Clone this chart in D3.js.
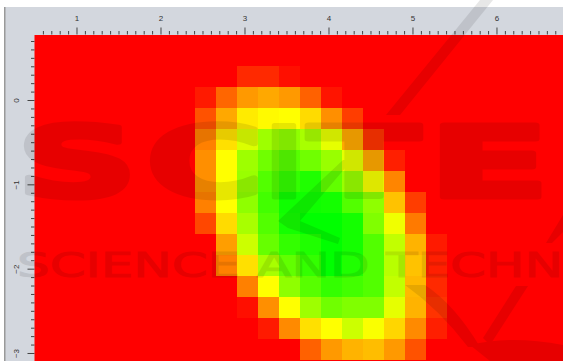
<!DOCTYPE html>
<html>
<head>
<meta charset="utf-8">
<script src="https://cdn.jsdelivr.net/npm/d3@7"></script>
<style>
  html, body { margin: 0; padding: 0; background: #fff; overflow: hidden; }
  svg { display: block; font-family: "DejaVu Sans", sans-serif; }
</style>
</head>
<body>
<div id="chart"></div>
<script>
// left edge of each column and top edge of each row, in data units
const xBins = [2.41, 2.66, 2.91, 3.16, 3.41, 3.66, 3.91, 4.16, 4.41, 4.66, 4.91, 5.16];
const yBins = [0.403, 0.154, -0.095, -0.344, -0.593, -0.842, -1.091, -1.34, -1.589, -1.838, -2.087, -2.336, -2.585, -2.834];
const binW = 0.25, binH = 0.249;

// 0 = red, 50 = yellow, 100 = green
const grid = [
  [ 0,  0,  8,  8,  3,  0,  0,  0,  0,  0,  0,  0],
  [ 5, 20, 30, 33, 30, 19,  4,  0,  0,  0,  0,  0],
  [16, 33, 46, 49, 50, 43, 28, 12,  0,  0,  0,  0],
  [25, 44, 57, 69, 72, 67, 55, 33, 10,  0,  0,  0],
  [28, 50, 69, 78, 83, 78, 70, 55, 33,  6,  0,  0],
  [28, 50, 70, 84, 90, 94, 81, 70, 52, 26,  0,  0],
  [25, 50, 72, 87, 97, 97, 96, 84, 72, 38, 12,  0],
  [14, 43, 67, 84, 96, 100, 100, 96, 75, 53, 24,  0],
  [ 0, 31, 60, 80, 90, 94, 100, 96, 84, 62, 35,  5],
  [ 0, 25, 44, 67, 81, 90, 100, 94, 84, 64, 38,  6],
  [ 0,  0, 25, 50, 72, 83, 90, 87, 84, 62, 36,  8],
  [ 0,  0,  3, 28, 50, 69, 78, 75, 75, 55, 35, 10],
  [ 0,  0,  0,  5, 27, 44, 50, 60, 51, 42, 27,  6],
  [ 0,  0,  0,  0,  0, 19, 30, 35, 37, 30, 16,  0]
];

const xMajor = [1, 2, 3, 4, 5, 6];
const yMajor = [0, -1, -2, -3];

const W = 563, H = 361;
const margin = {top: 35, left: 34.5};

const x_scale = d3.scaleLinear().domain([0.5, 6.792]).range([margin.left, W]);
const y_scale = d3.scaleLinear().domain([0.771, -3.095]).range([margin.top, H]);

const color = d3.scaleLinear()
  .domain([0, 50, 100])
  .range(["#ff0000", "#ffff00", "#00ff00"]);

const svg = d3.select("#chart").append("svg")
  .attr("width", W)
  .attr("height", H);

// window frame
svg.append("rect").attr("width", W).attr("height", H).attr("fill", "#fff");
svg.append("rect").attr("x", 5).attr("y", 7).attr("width", W - 5).attr("height", H - 7).attr("fill", "#d3d7de");
svg.append("rect").attr("x", 4).attr("y", 7).attr("width", 1.5).attr("height", H - 7).attr("fill", "#9a9a9a");

// plot background
svg.append("rect")
  .attr("x", margin.left).attr("y", margin.top)
  .attr("width", W - margin.left).attr("height", H - margin.top)
  .attr("fill", "#ff0000");

// heatmap cells
grid.forEach((row, j) => {
  svg.append("g").selectAll("rect")
    .data(row)
    .enter()
    .append("rect")
    .attr("x", (d, i) => x_scale(xBins[i]))
    .attr("y", y_scale(yBins[j]))
    .attr("width", x_scale(binW) - x_scale(0))
    .attr("height", y_scale(0) - y_scale(binH))
    .attr("fill", d => color(d))
    .attr("shape-rendering", "crispEdges");
});

// axes, major and minor ticks
const xMinor = d3.range(6, 68).map(d => d / 10).filter(d => !xMajor.includes(d));
const yMinor = d3.range(7, -31, -1).map(d => d / 10).filter(d => !yMajor.includes(d));

const axisTop = svg.append("g").attr("transform", `translate(0,${margin.top - 0.5})`);
axisTop.call(d3.axisTop(x_scale).tickValues(xMajor).tickSize(7).tickPadding(7).tickFormat(d3.format("d")));
const axisTopMinor = svg.append("g").attr("transform", `translate(0,${margin.top - 0.5})`);
axisTopMinor.call(d3.axisTop(x_scale).tickValues(xMinor).tickSize(3.5).tickFormat(""));

const axisLeft = svg.append("g").attr("transform", `translate(${margin.left},0)`);
axisLeft.call(d3.axisLeft(y_scale).tickValues(yMajor).tickSize(7).tickPadding(0).tickFormat(d3.format("d")));
const axisLeftMinor = svg.append("g").attr("transform", `translate(${margin.left},0)`);
axisLeftMinor.call(d3.axisLeft(y_scale).tickValues(yMinor).tickSize(3.5).tickFormat(""));

svg.selectAll(".domain").remove();
svg.selectAll(".tick line").attr("stroke", "#444");
svg.selectAll(".tick text").attr("fill", "#333").style("font-size", "8px");
axisLeft.selectAll(".tick text")
  .attr("x", 0).attr("dy", 0).attr("y", 0)
  .attr("text-anchor", "middle")
  .attr("transform", "translate(-15.5,0) rotate(-90)");

// publisher watermark on top of everything
const wm = svg.append("g").attr("fill", "#000").attr("opacity", 0.09).attr("font-weight", "bold");

const bigLetters = [
  {c: "S", x: 16, w: 122},
  {c: "C", x: 146, w: 118},
  {c: "I", x: 265, w: 38},
  {c: "T", x: 308, w: 112},
  {c: "E", x: 428, w: 122}
];
wm.selectAll("text.big")
  .data(bigLetters)
  .enter()
  .append("text")
  .attr("class", "big")
  .attr("x", d => d.x)
  .attr("y", 197)
  .attr("textLength", d => d.w)
  .attr("lengthAdjust", "spacingAndGlyphs")
  .attr("stroke", "#000")
  .attr("stroke-width", 5)
  .attr("stroke-linejoin", "round")
  .style("font-size", "98px")
  .text(d => d.c);

wm.append("text")
  .attr("x", 17).attr("y", 277)
  .attr("textLength", 546)
  .attr("lengthAdjust", "spacingAndGlyphs")
  .attr("font-weight", "normal")
  .attr("stroke", "#000")
  .attr("stroke-width", 1)
  .style("font-size", "34px")
  .text("SCIENCE AND TECHN");

const swoosh = [
  "M480,0 L493,0 L400,115 L386,115 Z",
  "M343,160 L352,160 L300,221 L340,238 L338,244 L288,228 L278,221 Z",
  "M405,285 L425,285 Q455,305 480,347 L468,347 Q440,310 405,285 Z",
  "M483,338 L516,286 L528,286 L490,345 Z",
  "M470,345 Q510,335 563,345 L563,361 L490,361 Z",
  "M546,243 L563,215 L563,232 L552,243 Z"
];
wm.selectAll("path")
  .data(swoosh)
  .enter()
  .append("path")
  .attr("d", d => d);
</script>
</body>
</html>
